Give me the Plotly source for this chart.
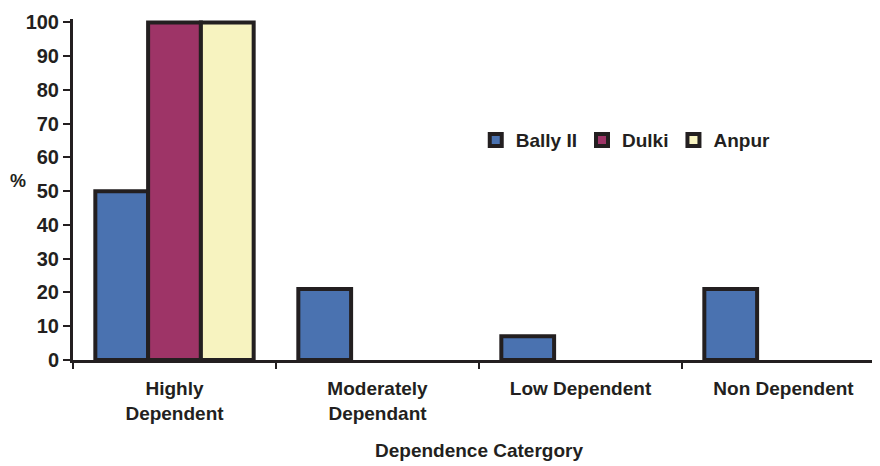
import plotly.graph_objects as go

categories = ["Highly<br>Dependent", "Moderately<br>Dependant", "Low Dependent", "Non Dependent"]
bally = [50, 21, 7, 21]
dulki = [100, 0, 0, 0]
anpur = [100, 0, 0, 0]
yticks = [0, 10, 20, 30, 40, 50, 60, 70, 80, 90, 100]

FONT = "Liberation Sans, Arial"
DARK = "#231F20"

fig = go.Figure()
for name, vals, col in [("Bally II", bally, "#4A72B0"), ("Dulki", dulki, "#9E3467"), ("Anpur", anpur, "#F7F3C0")]:
    fig.add_trace(go.Bar(
        x=categories, y=vals, name=name,
        marker=dict(color=col, line=dict(color=DARK, width=[4 if v > 0 else 0 for v in vals])),
    ))

fig.update_layout(
    width=880, height=458,
    margin=dict(l=65, r=3, t=9, b=106),
    paper_bgcolor="white", plot_bgcolor="white",
    barmode="group", bargap=0.22, bargroupgap=0,
    font=dict(family=FONT, size=20, color=DARK),
    showlegend=True,
    legend=dict(orientation="h", x=0.496, y=0.645, xanchor="left", yanchor="middle",
                font=dict(family=FONT, size=19, color=DARK, weight="bold"),
                bgcolor="rgba(0,0,0,0)", itemwidth=30, tracegroupgap=0),
    xaxis=dict(showline=True, linecolor=DARK, linewidth=3, ticks="outside", tickson="boundaries",
               ticklen=6, tickwidth=2, tickcolor=DARK, range=[-0.5, 3.5], ticklabelstandoff=9,
               tickfont=dict(family=FONT, size=19, weight="bold", color=DARK),
               title=dict(text="Dependence Catergory", font=dict(family=FONT, size=19, weight="bold", color=DARK),
                          standoff=22)),
    yaxis=dict(showline=True, linecolor=DARK, linewidth=3, ticks="outside", ticklen=7, tickwidth=2,
               tickcolor=DARK, range=[0, 101], tickvals=yticks, showgrid=False, zeroline=False,
               tickfont=dict(family=FONT, size=20, weight="bold", color=DARK)),
)
fig.add_annotation(text="%", xref="paper", yref="paper", x=-0.068, y=0.525, showarrow=False,
                   xanchor="center", yanchor="middle", font=dict(family=FONT, size=18, weight="bold", color=DARK))
fig.write_html("out.html")
